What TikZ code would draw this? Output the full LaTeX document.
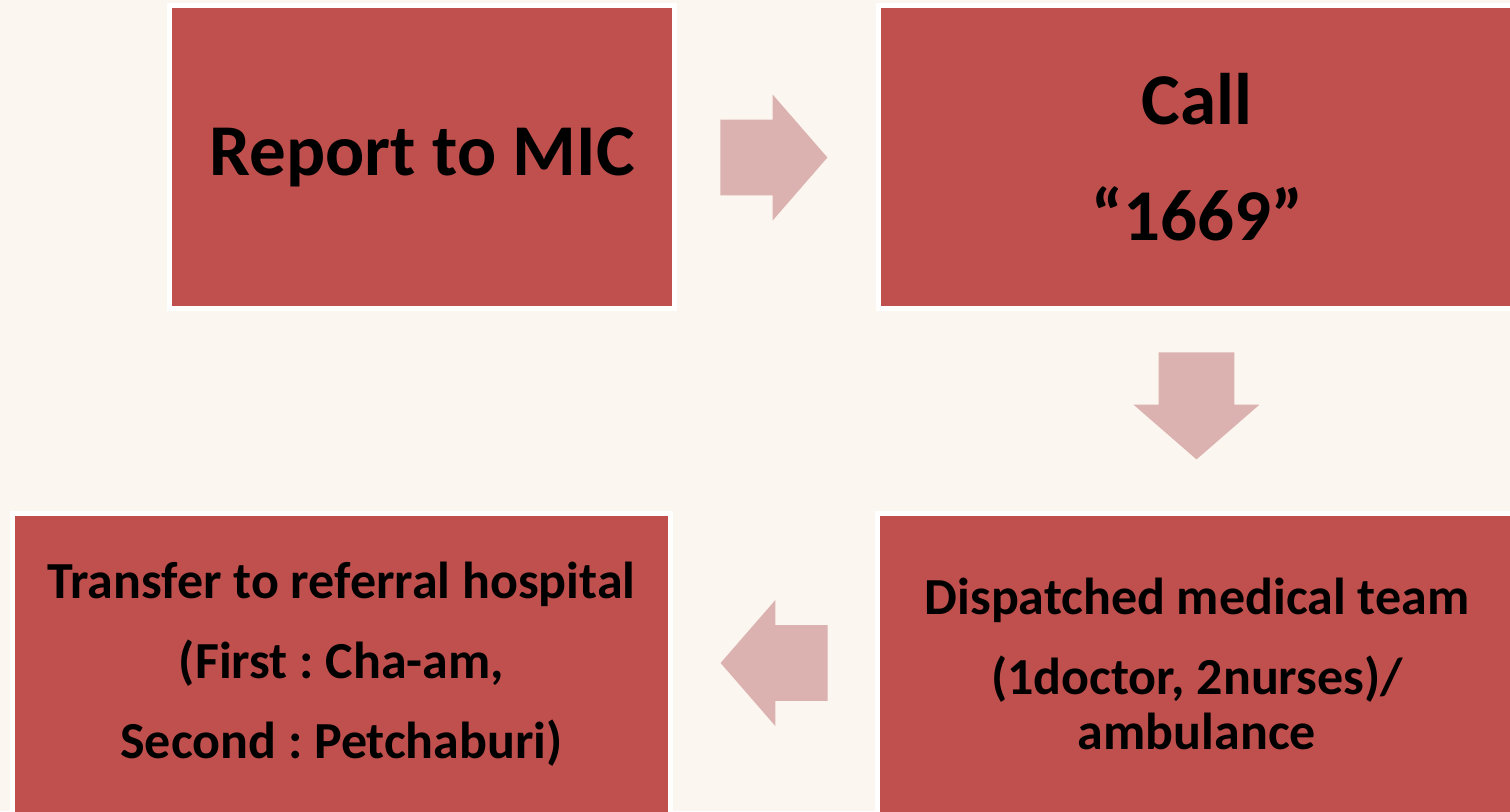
\documentclass[tikz,border=0pt]{standalone}
\usepackage{fontspec}
\setmainfont{Carlito}
\usepackage{tikz}
\usetikzlibrary{positioning,shapes.arrows}
\definecolor{bgcream}{HTML}{FBF6F0}
\definecolor{boxred}{HTML}{C0504D}
\definecolor{arrowpink}{HTML}{DCB2B1}
\frenchspacing

\begin{document}
\begin{tikzpicture}[node distance=2cm, font=\bfseries]
\tikzstyle{stepbox}=[rectangle, fill=boxred, draw=white, line width=2.5pt, inner sep=0pt, align=center]
\tikzstyle{bigtext}=[font=\bfseries\fontsize{36.5}{58}\selectfont]
\tikzstyle{smalltext}=[font=\bfseries\fontsize{26}{27.5}\selectfont]
\tikzstyle{flowarrow}=[single arrow, fill=arrowpink, draw=none, anchor=tail, minimum height=53.5pt, single arrow head extend=12.5pt, single arrow tip angle=98]
\tikzstyle{sidearrow}=[flowarrow, inner xsep=0pt, inner ysep=18.75pt]
\tikzstyle{downarrow}=[flowarrow, inner xsep=18.75pt, inner ysep=0pt, shape border rotate=270]

% background and page size
\fill[bgcream] (0,0) rectangle (755pt,-405.5pt);
\useasboundingbox (0,0) rectangle (755pt,-405.5pt);

\node[stepbox, bigtext, minimum width=252.5pt, minimum height=151.5pt] (report) at (211pt,-78.5pt) {Report to MIC};
\node[stepbox, bigtext, minimum width=318.5pt, minimum height=151.5pt, node distance=387.5pt, right of=report] (call) {Call\\“1669”};
\node[stepbox, smalltext, minimum width=319.5pt, minimum height=150.5pt, node distance=253.5pt, below of=call] (dispatch) {Dispatched medical team\\[12.5pt](1doctor, 2nurses)/\\ambulance};
\node[stepbox, smalltext, minimum width=329pt, minimum height=150.5pt, node distance=427.75pt, left of=dispatch] (transfer) {Transfer to referral hospital\\[12.5pt](First : Cha-am,\\[12.5pt]Second : Petchaburi)};

% block arrows between the steps (placed by their tails)
\node[sidearrow] (toCall) at (360pt,-78.75pt) {};
\node[downarrow] (toDispatch) at (598.25pt,-176pt) {};
\node[sidearrow, shape border rotate=180] (toTransfer) at (414pt,-331.5pt) {};
\end{tikzpicture}
\end{document}
